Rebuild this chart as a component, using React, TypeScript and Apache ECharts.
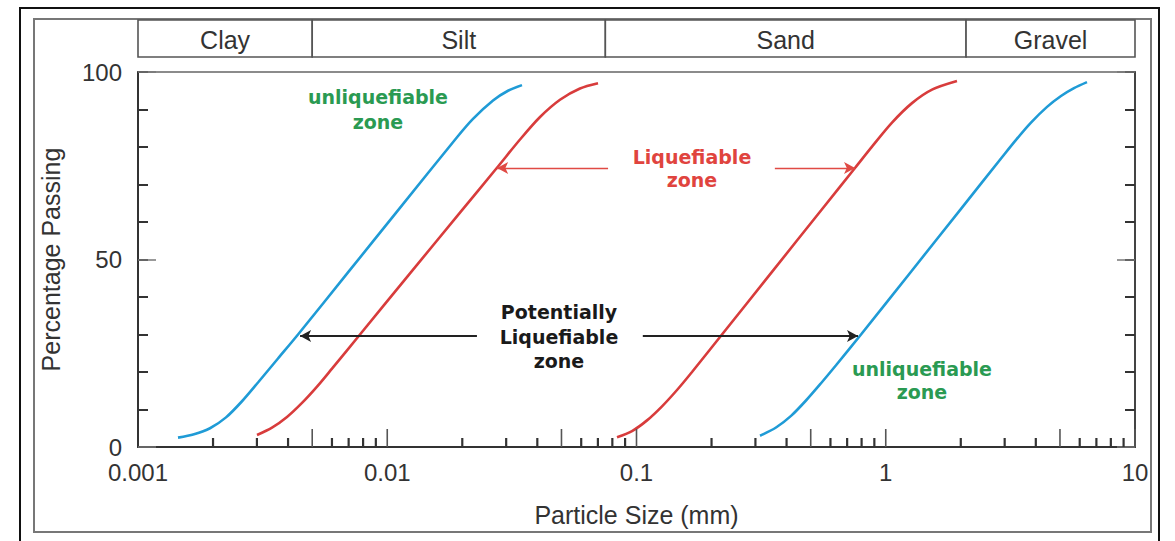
import React, { useEffect, useRef } from 'react';
import * as echarts from 'echarts';

// ---- data ----
const zoneNames = ['Clay', 'Silt', 'Sand', 'Gravel'];
const zoneBounds = [0.001, 0.005, 0.075, 2.1, 10];

const blueFine: [number, number][] = [
  [0.001447, 2.5], [0.001678, 3.4], [0.001945, 5.0], [0.002255, 7.9], [0.002614, 12.2],
  [0.00303, 17.2], [0.003645, 23.6], [0.004385, 30.0], [0.00696, 46.55], [0.01104, 63.1],
  [0.01905, 82.6], [0.02208, 87.5], [0.02657, 92.4], [0.03051, 95.0], [0.03472, 96.5],
];
const redFine: [number, number][] = [
  [0.003002, 3.2], [0.003448, 5.15], [0.003961, 8.0], [0.00455, 11.75], [0.005227, 16.1],
  [0.006003, 20.9], [0.007774, 30.0], [0.01234, 46.3], [0.01958, 62.5], [0.02782, 74.8],
  [0.03409, 82.0], [0.04102, 88.0], [0.04932, 92.6], [0.05934, 95.6], [0.07008, 97.0],
];
const redCoarse: [number, number][] = [
  [0.08352, 2.6], [0.09594, 4.25], [0.1102, 7.1], [0.1266, 10.85], [0.1454, 15.2],
  [0.167, 20.0], [0.2203, 30.0], [0.3496, 46.7], [0.5549, 63.4], [0.7526, 74.4],
  [0.8807, 80.1], [1.0595, 86.5], [1.2743, 91.7], [1.5333, 95.3], [1.931, 97.6],
];
const blueCoarse: [number, number][] = [
  [0.313, 3.0], [0.3629, 5.2], [0.4169, 8.3], [0.4786, 12.4], [0.5498, 17.0],
  [0.6316, 21.8], [0.7957, 30.0], [1.263, 46.75], [2.004, 63.5], [2.954, 77.6],
  [3.332, 81.9], [3.825, 86.5], [4.437, 90.7], [5.048, 93.6], [5.692, 95.7], [6.418, 97.3],
];

const blackArrows: [number, number][][] = [
  [[0.0229, 29.6], [0.00447, 29.6]],
  [[0.106, 29.6], [0.774, 29.6]],
];
const redArrows: [number, number][][] = [
  [[0.0769, 74.4], [0.0276, 74.4]],
  [[0.359, 74.4], [0.753, 74.4]],
];

const yTickLabels = [0, 50, 100];
const xTickLabels = [0.001, 0.01, 0.1, 1, 10];
const decades = [0.001, 0.01, 0.1, 1];
const minorMultipliers = [2, 3, 4, 5, 6, 7, 8, 9, 10];
const tallMultipliers = [5, 10];

const FONT = "'Liberation Sans', Arial, sans-serif";
const ANNO_FONT = "'DejaVu Sans', Verdana, sans-serif";
const BLUE = '#1f9bd6';
const RED = '#d83c3c';
const GREEN = '#2a9a52';
const RED_TEXT = '#e0443e';

export default function App() {
  const ref = useRef<HTMLDivElement>(null);

  useEffect(() => {
    if (!ref.current) return;
    const chart = echarts.init(ref.current, undefined, { renderer: 'svg' });

    const tickData: number[][] = [];
    decades.forEach((d) => {
      minorMultipliers.forEach((m) => {
        tickData.push([d * m, 0, tallMultipliers.includes(m) ? 1 : 0]);
      });
    });

    const xFmt = (v: number) => {
      const t = xTickLabels.find((x) => Math.abs(Math.log10(x) - Math.log10(v)) < 1e-6);
      return t !== undefined ? String(t) : '';
    };

    const curve = (data: [number, number][], color: string, extra: any = {}) => ({
      type: 'line',
      xAxisIndex: 0,
      yAxisIndex: 0,
      data,
      smooth: 0.3,
      showSymbol: false,
      symbol: 'none',
      silent: true,
      lineStyle: { color, width: 2.6 },
      z: 3,
      ...extra,
    });

    const arrowMark = (arrs: [number, number][][], color: string, width: number) => ({
      silent: true,
      symbol: ['none', 'arrow'],
      symbolSize: [9, 11],
      label: { show: false },
      lineStyle: { color, width, type: 'solid' },
      emphasis: { disabled: true },
      data: arrs.map((a) => [{ coord: a[0] }, { coord: a[1] }]),
    });

    const annoText = (x: number, y: number, text: string, color: string, lh: number) => ({
      type: 'text',
      x,
      y,
      silent: true,
      style: {
        text,
        fill: color,
        font: `bold 19px ${ANNO_FONT}`,
        textAlign: 'center',
        textVerticalAlign: 'top',
        lineHeight: lh,
      },
      z: 10,
    });

    chart.setOption({
      animation: false,
      backgroundColor: '#fff',
      grid: [
        { left: 138, top: 72, width: 997, height: 375, show: true, borderColor: '#666', borderWidth: 1.5, backgroundColor: 'transparent' },
        { left: 138, top: 20, width: 997, height: 37, show: false },
      ],
      xAxis: [
        {
          gridIndex: 0,
          type: 'log',
          logBase: 10,
          min: 0.001,
          max: 10,
          axisLine: { show: true, lineStyle: { color: '#333', width: 2 } },
          axisTick: { show: false },
          axisLabel: { formatter: xFmt, fontSize: 24, lineHeight: 22, color: '#333', margin: 14, fontFamily: FONT },
          splitLine: { show: false },
          name: 'Particle Size (mm)',
          nameLocation: 'middle',
          nameGap: 55,
          nameTextStyle: { fontSize: 25, color: '#333', fontFamily: FONT },
        },
        { gridIndex: 1, type: 'log', logBase: 10, min: 0.001, max: 10, show: false },
      ],
      yAxis: [
        {
          gridIndex: 0,
          type: 'value',
          min: 0,
          max: 100,
          interval: 10,
          position: 'left',
          axisLine: { show: true, lineStyle: { color: '#333', width: 2 } },
          axisTick: { show: true, inside: true, length: 10, lineStyle: { color: '#333', width: 2 } },
          axisLabel: {
            formatter: (v: number) => (yTickLabels.includes(v) ? String(v) : ''),
            fontSize: 24,
            lineHeight: 19,
            padding: [0, 0, 8, 0],
            color: '#333',
            margin: 16,
            fontFamily: FONT,
          },
          splitLine: { show: false },
          name: 'Percentage Passing',
          nameLocation: 'middle',
          nameGap: 75,
          nameTextStyle: { fontSize: 25, color: '#333', fontFamily: FONT },
        },
        {
          gridIndex: 0, type: 'value', min: 0, max: 100, interval: 50, position: 'left',
          axisLine: { show: false },
          axisTick: { show: true, inside: true, length: 18, lineStyle: { color: '#777', width: 1.5 } },
          axisLabel: { show: false }, splitLine: { show: false },
        },
        {
          gridIndex: 0, type: 'value', min: 0, max: 100, interval: 10, position: 'right',
          axisLine: { show: true, lineStyle: { color: '#444', width: 2 } },
          axisTick: { show: true, inside: true, length: 10, lineStyle: { color: '#333', width: 2 } },
          axisLabel: { show: false }, splitLine: { show: false },
        },
        {
          gridIndex: 0, type: 'value', min: 0, max: 100, interval: 50, position: 'right',
          axisLine: { show: false },
          axisTick: { show: true, inside: true, length: 18, lineStyle: { color: '#777', width: 1.5 } },
          axisLabel: { show: false }, splitLine: { show: false },
        },
        { gridIndex: 1, type: 'value', min: 0, max: 1, show: false },
      ],
      series: [
        curve(blueFine, BLUE, { markLine: arrowMark(blackArrows, '#222', 2.2) }),
        curve(redFine, RED, { markLine: arrowMark(redArrows, '#e04a44', 1.4) }),
        curve(redCoarse, RED),
        curve(blueCoarse, BLUE),
        {
          type: 'custom',
          xAxisIndex: 0,
          yAxisIndex: 0,
          silent: true,
          clip: false,
          data: tickData,
          encode: { x: 0, y: 1 },
          renderItem: (params: any, api: any) => {
            const p = api.coord([api.value(0), 0]);
            const tall = api.value(2) === 1;
            return {
              type: 'line',
              shape: { x1: p[0], y1: p[1], x2: p[0], y2: p[1] - (tall ? 18 : 9) },
              style: { stroke: tall ? '#555' : '#333', lineWidth: tall ? 1.6 : 2.2 },
            };
          },
          z: 4,
        },
        {
          type: 'custom',
          xAxisIndex: 1,
          yAxisIndex: 4,
          silent: true,
          clip: false,
          data: zoneNames.map((_, i) => [zoneBounds[i], zoneBounds[i + 1]]),
          encode: { x: [0, 1] },
          renderItem: (params: any, api: any) => {
            const s = api.coord([api.value(0), 0]);
            const e = api.coord([api.value(1), 1]);
            return {
              type: 'group',
              children: [
                {
                  type: 'rect',
                  shape: { x: s[0], y: e[1], width: e[0] - s[0], height: s[1] - e[1] },
                  style: { fill: '#fff', stroke: '#555', lineWidth: 1.6 },
                },
                {
                  type: 'text',
                  x: (s[0] + e[0]) / 2,
                  y: (s[1] + e[1]) / 2 + 1,
                  style: {
                    text: zoneNames[params.dataIndex],
                    textAlign: 'center',
                    textVerticalAlign: 'middle',
                    fontSize: 25,
                    fontFamily: FONT,
                    fill: '#333',
                  },
                },
              ],
            };
          },
        },
      ],
      graphic: [
        { type: 'rect', silent: true, z: -1, shape: { x: 20, y: 8, width: 1139, height: 560 }, style: { fill: 'none', stroke: '#111', lineWidth: 2 } },
        { type: 'rect', silent: true, z: -1, shape: { x: 34, y: 19, width: 1117, height: 513 }, style: { fill: 'none', stroke: '#777', lineWidth: 2 } },
        annoText(378, 84, 'unliquefiable\nzone', GREEN, 25),
        annoText(922, 357, 'unliquefiable\nzone', GREEN, 23),
        annoText(692, 145, 'Liquefiable\nzone', RED_TEXT, 23),
        annoText(559, 300, 'Potentially\nLiquefiable\nzone', '#1a1a1a', 24.5),
      ],
    });

    return () => chart.dispose();
  }, []);

  return <div ref={ref} style={{ position: 'absolute', left: 0, top: 0, width: 1175, height: 541 }} />;
}
